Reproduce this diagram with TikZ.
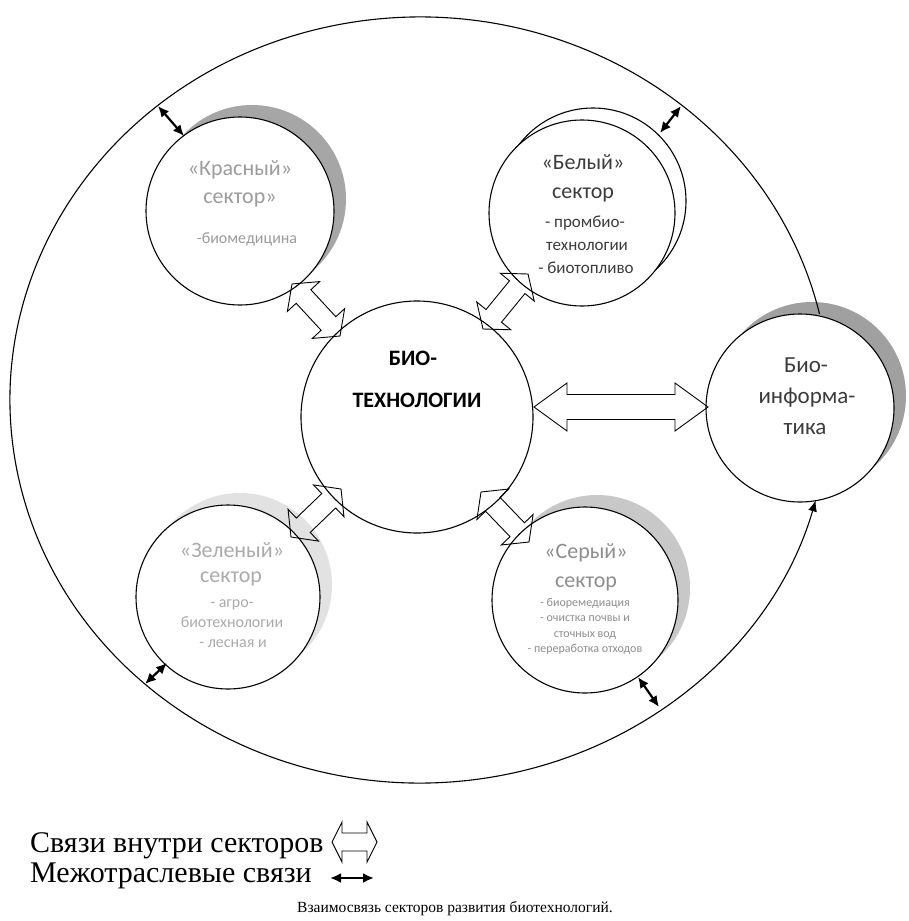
\documentclass[tikz,border=0pt]{standalone}
\usepackage{fontspec}
\setmainfont{Carlito}
\newfontfamily\legfont{Liberation Serif}
\usetikzlibrary{calc,arrows.meta}
\definecolor{shRed}{HTML}{A6A6A6}
\definecolor{shInfo}{HTML}{A0A0A0}
\definecolor{shGreen}{HTML}{E2E2E2}
\definecolor{shGray}{HTML}{C8C8C8}
\definecolor{txRed}{HTML}{9C9C9C}
\definecolor{txGreen}{HTML}{ABABAB}
\definecolor{txGray}{HTML}{8E8E8E}
\definecolor{txDark}{HTML}{3C3C3C}
\newcommand{\blockarr}[5]{%
  \draw[barr] (#1)
    -- ($(#1)!#3!(#2)!#4!90:(#2)$)
    -- ($(#1)!#3!(#2)!#5!90:(#2)$)
    -- ($(#2)!#3!(#1)!#5!-90:(#1)$)
    -- ($(#2)!#3!(#1)!#4!-90:(#1)$)
    -- (#2)
    -- ($(#2)!#3!(#1)!#4!90:(#1)$)
    -- ($(#2)!#3!(#1)!#5!90:(#1)$)
    -- ($(#1)!#3!(#2)!#5!-90:(#2)$)
    -- ($(#1)!#3!(#2)!#4!-90:(#2)$)
    -- cycle;}
\begin{document}
\begin{tikzpicture}[x=1pt,y=-1pt,
  circ/.style={circle, draw=black, fill=white, line width=1.1pt, inner sep=0pt},
  shad/.style={circle, draw=none, inner sep=0pt},
  barr/.style={draw=black, line width=0.9pt, line join=miter, fill=none},
  blk/.style={line width=2.2pt, {Latex[length=11pt,width=10pt]}-{Latex[length=11pt,width=10pt]}},
  big/.style={font=\fontsize{22}{26}\selectfont, anchor=base},
  med/.style={font=\fontsize{16}{19}\selectfont, anchor=base},
  sml/.style={font=\fontsize{12}{14}\selectfont, anchor=base},
  leg/.style={font=\legfont\fontsize{30}{32}\selectfont, anchor=base west, inner sep=0pt},
]
\useasboundingbox[fill=white] (0,0) rectangle (909,921);

% shadows / back circles
\node[shad, fill=shRed, minimum size=188pt] (redS) at (252,199) {};
\node[shad, fill=shInfo, minimum size=188pt] (infoS) at (812,396) {};
\node[shad, fill=shGreen, minimum size=184pt] (greenS) at (240,585) {};
\node[shad, fill=shGray, minimum size=186pt] (grayS) at (597,588) {};
\node[circ, minimum size=186pt] (whiteS) at (593,201) {};

% outer ring with arrow to bioinformatics
\draw[line width=1.1pt, -{Latex[length=11pt,width=9pt]}]
  (420,400) ++ (13:410pt and 383pt)
  arc[start angle=13, end angle=344.8, x radius=410pt, y radius=383pt];

% main circles
\node[circ, minimum size=188pt] (red) at (240,211) {};
\node[circ, minimum size=186pt] (white) at (582,213) {};
\node[circ, minimum size=188pt] (info) at (800,408) {};
\node[circ, minimum size=232pt] (center) at (417,417) {};
\node[circ, minimum size=184pt] (green) at (228,597) {};
\node[circ, minimum size=186pt] (gray) at (585,600) {};

% block arrows (links inside sectors)
\coordinate (ra) at (292,284); \coordinate (rb) at (340,336);
\coordinate (wa) at (483,329); \coordinate (wb) at (528,274);
\coordinate (ga) at (291,537); \coordinate (gb) at (341,489);
\coordinate (ya) at (481,492); \coordinate (yb) at (529,542);
\coordinate (ia) at (534,407); \coordinate (ib) at (708,407);
\blockarr{ra}{rb}{17pt}{22pt}{10pt}
\blockarr{wa}{wb}{17pt}{22pt}{10pt}
\blockarr{ga}{gb}{17pt}{22pt}{10pt}
\blockarr{ya}{yb}{17pt}{22pt}{10pt}
\blockarr{ia}{ib}{33pt}{24pt}{12.5pt}

% inter-branch links
\coordinate (o1) at (158,106); \coordinate (c1) at (184,136);
\coordinate (o2) at (681,106); \coordinate (c2) at (660,133);
\coordinate (o3) at (145,684); \coordinate (c3) at (167,663);
\coordinate (o4) at (659,707); \coordinate (c4) at (638,677);
\draw[blk] (o1) -- (c1);
\draw[blk] (o2) -- (c2);
\draw[blk] (o3) -- (c3);
\draw[blk] (o4) -- (c4);

% texts: red sector
\node[big, text=txRed] (r1) at (240,175) {«Красный»};
\node[big, text=txRed] (r2) at (240,203) {сектор»};
\node[med, text=txRed] (r3) at (247,243) {-биомедицина};
% white sector
\node[big, text=txDark] (w1) at (583,169) {«Белый»};
\node[big, text=txDark] (w2) at (583,198) {сектор};
\node[med, text=txDark, font=\fontsize{17}{19}\selectfont] (w3) at (585,227) {- промбио-};
\node[med, text=txDark, font=\fontsize{17}{19}\selectfont] (w4) at (587,250) {технологии};
\node[med, text=txDark, font=\fontsize{17}{19}\selectfont] (w5) at (586,273) {- биотопливо};
% bioinformatics
\node[big, text=txDark, font=\fontsize{23}{26}\selectfont] (i1) at (806,372) {Био-};
\node[big, text=txDark, font=\fontsize{23}{26}\selectfont] (i2) at (807,403) {информа-};
\node[big, text=txDark, font=\fontsize{23}{26}\selectfont] (i3) at (805,434) {тика};
% center
\node[big, font=\bfseries\fontsize{22}{26}\selectfont] (c1t) at (413,365) {БИО-};
\node[big, font=\bfseries\fontsize{22}{26}\selectfont] (c2t) at (417,407) {ТЕХНОЛОГИИ};
% green sector
\node[big, text=txGreen] (g1) at (232,557) {«Зеленый»};
\node[big, text=txGreen] (g2) at (231,582) {сектор};
\node[med, text=txGreen] (g3) at (232,607) {- агро-};
\node[med, text=txGreen] (g4) at (232,627) {биотехнологии};
\node[med, text=txGreen] (g5) at (233,647) {- лесная и};
% gray sector
\node[big, text=txGray] (y1) at (586,558) {«Серый»};
\node[big, text=txGray] (y2) at (586,587) {сектор};
\node[sml, text=txGray] (y3) at (585,606) {- биоремедиация};
\node[sml, text=txGray] (y4) at (585,621) {- очистка почвы и};
\node[sml, text=txGray] (y5) at (585,637) {сточных вод};
\node[sml, text=txGray] (y6) at (585,652) {- переработка отходов};

% legend
\node[leg] (l1) at (30,852) {Связи внутри секторов};
\node[leg] (l2) at (30,882) {Межотраслевые связи};
\coordinate (la) at (332,842); \coordinate (lb) at (377,842);
\blockarr{la}{lb}{10pt}{20pt}{9pt}
\coordinate (lc) at (330,878); \coordinate (ld) at (374,878);
\draw[blk] (lc) -- (ld);
\node[font=\legfont\fontsize{15.5}{19}\selectfont, anchor=base, inner sep=0pt] (cap) at (455,912) {Взаимосвязь секторов развития биотехнологий.};
\end{tikzpicture}
\end{document}
